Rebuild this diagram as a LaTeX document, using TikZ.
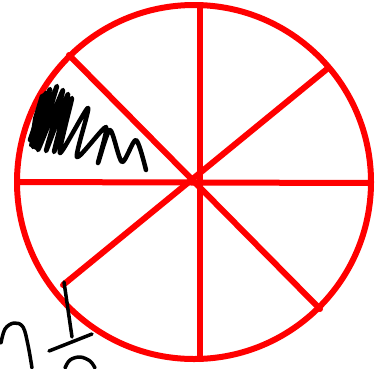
\documentclass[tikz,border=0pt]{standalone}
\begin{document}
\begin{tikzpicture}[x=1pt,y=-1pt,
  redink/.style={draw={rgb,255:red,255;green,0;blue,0},line width=6pt,line cap=round,line join=round},
  blackink/.style={draw=black,line width=4.5pt,line cap=round,line join=round}]
\useasboundingbox (0,0) rectangle (382,368);
% circle
\coordinate (c) at (194,182);
\draw[redink] (c) circle[radius=177];
% spokes
\coordinate (top) at (200,5);
\coordinate (bot) at (200,359);
\coordinate (lft) at (17,182);
\coordinate (rgt) at (371,183);
\coordinate (tl) at (69,55);
\coordinate (br) at (320,309);
\coordinate (tr) at (327,69);
\coordinate (bl) at (63,285);
\draw[redink] (top) -- (bot);
\draw[redink] (lft) -- (rgt);
\draw[redink] (tl) -- (br);
\draw[redink] (tr) -- (bl);
% scribble
\draw[blackink] plot[smooth,tension=0.45] coordinates {
 (46,93) (30,140) (50,89) (33,147) (57,86) (38,150) (63,90) (46,151)
 (68,94) (54,152) (72,98) (60,153) (88,108) (77,157) (106,127) (98,163)
 (110,130) (122,162) (136,140) (146,170)};
\fill[black] (40,95) -- (52,88) -- (46,120) -- (36,150) -- (29,146) -- (33,118) -- cycle;
% handwritten fraction
\draw[blackink,line width=3.5pt] plot[smooth,tension=0.6] coordinates {(1,343) (5,329) (14,323) (23,327) (28,345) (32,368)};
\draw[blackink,line width=3.5pt] (64,282) -- (72,337);
\draw[blackink,line width=3.5pt] (49,351) -- (92,334);
\draw[blackink,line width=3.5pt] plot[smooth,tension=0.6] coordinates {(65,368) (70,360) (80,357) (90,361) (95,368)};
\end{tikzpicture}
\end{document}
